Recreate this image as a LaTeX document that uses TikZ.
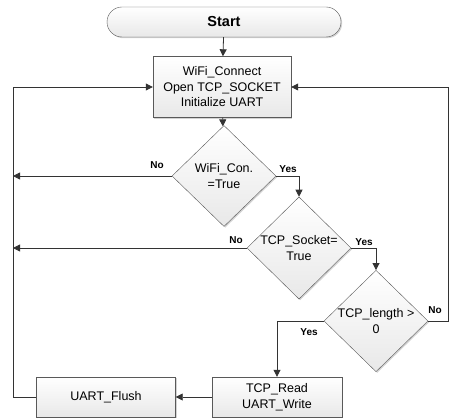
\documentclass[tikz,border=0pt]{standalone}
\usepackage{fontspec}
\setmainfont{Liberation Sans}
\usetikzlibrary{shapes.geometric,shapes.misc,arrows.meta,shadows}

\tikzset{
  box/.style={draw=gray!70!black, top color=white, bottom color=gray!18,
    drop shadow={shadow xshift=1.2pt, shadow yshift=-1.2pt, opacity=0.35},
    align=center, font=\fontsize{12.5}{15.5}\selectfont, inner sep=0pt},
  terminal/.style={box, rounded rectangle, minimum width=234pt, minimum height=30pt,
    font=\fontsize{14.5}{17}\selectfont\bfseries},
  process/.style={box, rectangle, minimum height=40pt},
  decision/.style={box, diamond, minimum width=104pt, minimum height=101pt},
  flow/.style={draw=gray!40!black, line width=0.8pt, -{Triangle[length=7pt,width=7pt]}},
  line/.style={draw=gray!40!black, line width=0.8pt},
  lbl/.style={font=\fontsize{10}{12}\selectfont\bfseries, inner sep=0pt}
}

\begin{document}
\begin{tikzpicture}[x=1pt,y=-1pt]
  \useasboundingbox (0,0) rectangle (449,417);
  \node[terminal] (start) at (224,22) {Start};
  \node[process, minimum width=138pt, minimum height=61pt] (init) at (222,87)
    {WiFi\_Connect\\Open TCP\_SOCKET\\Initialize UART};
  \node[decision] (wifi) at (224,176) {WiFi\_Con.\\=True};
  \node[decision] (sock) at (299,248) {TCP\_Socket=\\True};
  \node[decision] (len) at (376,321) {TCP\_length >\\0};
  \node[process, minimum width=130pt] (read) at (277,397) {TCP\_Read\\UART\_Write};
  \node[process, minimum width=139pt] (flush) at (106,397) {UART\_Flush};

  \coordinate (lft) at (13,0);
  \coordinate (rgt) at (448,0);

  % main path
  \draw[flow] (start) -- (init);
  \draw[flow] (init) -- (wifi);
  \draw[flow] (wifi.east) -| (sock.north);
  \draw[flow] (sock.east) -| (len.north);
  \draw[flow] (len.west) -| (read.north);
  \draw[flow] (read) -- (flush);

  % loops back
  \draw[flow] (flush.west) -- (flush.west -| lft) |- (init.west);
  \draw[flow] (len.east) -- (len.east -| rgt) |- (init.east);
  \draw[flow] (wifi.west) -- (wifi.west -| lft);
  \draw[flow] (sock.west) -- (sock.west -| lft);

  % labels
  \node[lbl] (n1) at (157,165) {No};
  \node[lbl] (y1) at (288,169) {Yes};
  \node[lbl] (n2) at (236,240) {No};
  \node[lbl] (y2) at (364,242) {Yes};
  \node[lbl] (y3) at (309,332) {Yes};
  \node[lbl] (n3) at (435,310) {No};
\end{tikzpicture}
\end{document}
